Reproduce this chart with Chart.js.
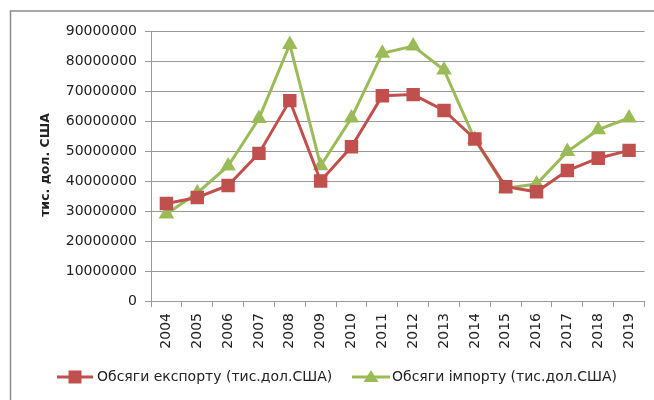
<!DOCTYPE html>
<html>
<head>
<meta charset="utf-8">
<script src="https://cdn.jsdelivr.net/npm/chart.js@4"></script>
<style>
html,body{margin:0;padding:0;background:#fff;}
#wrap{width:654px;height:400px;position:relative;}
</style>
</head>
<body>
<div id="wrap"><canvas id="c" width="654" height="400"></canvas></div>
<script>
const years = ['2004','2005','2006','2007','2008','2009','2010','2011','2012','2013','2014','2015','2016','2017','2018','2019'];
const exportValues = [32500000,34500000,38500000,49200000,66800000,40000000,51400000,68400000,68800000,63500000,54000000,38100000,36400000,43500000,47600000,50200000];
const importValues = [29000000,36000000,45000000,60800000,85500000,45100000,61000000,82600000,85000000,77000000,53800000,37600000,39000000,49800000,57100000,61000000];
const yTicks = [0,10000000,20000000,30000000,40000000,50000000,60000000,70000000,80000000,90000000];
const seriesNames = ['Обсяги експорту (тис.дол.США)','Обсяги імпорту (тис.дол.США)'];
const yTitle = 'тис. дол. США';

const RED = '#C0504D', GREEN = '#9BBB59';
const FONT = 'DejaVu Sans';

const decor = {
  id: 'decor',
  beforeDraw(chart) {
    const ctx = chart.ctx;
    ctx.save();
    ctx.fillStyle = '#fff';
    ctx.fillRect(0, 0, chart.width, chart.height);
    ctx.strokeStyle = '#8c8c8c';
    ctx.lineWidth = 1.5;
    ctx.strokeRect(10.5, 11, 700, 500);
    ctx.restore();
  },
  afterDraw(chart) {
    const ctx = chart.ctx;
    ctx.save();
    ctx.translate(46, 165);
    ctx.rotate(-Math.PI / 2);
    ctx.font = 'bold 12.5px ' + FONT;
    ctx.fillStyle = '#222';
    ctx.textAlign = 'center';
    ctx.textBaseline = 'middle';
    ctx.fillText(yTitle, 0, 0);
    ctx.restore();

    const ly = 377;
    const items = [
      {x0: 57, x1: 93, color: RED, style: 'rect', text: seriesNames[0], tx: 97},
      {x0: 352, x1: 390, color: GREEN, style: 'triangle', text: seriesNames[1], tx: 392}
    ];
    items.forEach(it => {
      ctx.save();
      ctx.strokeStyle = it.color;
      ctx.lineWidth = 3;
      ctx.beginPath();
      ctx.moveTo(it.x0, ly);
      ctx.lineTo(it.x1, ly);
      ctx.stroke();
      const cx = (it.x0 + it.x1) / 2;
      ctx.fillStyle = it.color;
      if (it.style === 'rect') {
        ctx.fillRect(cx - 6.5, ly - 6.5, 13, 13);
      } else {
        ctx.beginPath();
        ctx.moveTo(cx, ly - 7);
        ctx.lineTo(cx + 7.5, ly + 5);
        ctx.lineTo(cx - 7.5, ly + 5);
        ctx.closePath();
        ctx.fill();
      }
      ctx.font = '14px ' + FONT;
      ctx.fillStyle = '#222';
      ctx.textAlign = 'left';
      ctx.textBaseline = 'middle';
      ctx.fillText(it.text, it.tx, ly);
      ctx.restore();
    });
  }
};

new Chart(document.getElementById('c'), {
  type: 'line',
  data: {
    labels: years,
    datasets: [
      {label: seriesNames[0], data: exportValues, borderColor: RED, backgroundColor: RED,
       borderWidth: 3, pointStyle: 'rect', pointRadius: 9.5, pointHoverRadius: 9.5,
       pointBorderWidth: 0, tension: 0},
      {label: seriesNames[1], data: importValues, borderColor: GREEN, backgroundColor: GREEN,
       borderWidth: 3, pointStyle: 'triangle', pointRadius: 9, pointHoverRadius: 9,
       pointBorderWidth: 0, tension: 0}
    ]
  },
  options: {
    responsive: false,
    animation: false,
    devicePixelRatio: 1,
    layout: {padding: {left: 0, right: 8, top: 31, bottom: 0}},
    plugins: {legend: {display: false}, tooltip: {enabled: false}},
    scales: {
      x: {
        offset: true,
        grid: {display: true, offset: true, drawOnChartArea: false, drawTicks: true, tickLength: 6, color: '#999'},
        border: {display: true, color: '#999', width: 1},
        ticks: {minRotation: 90, maxRotation: 90, padding: 6, color: '#222', font: {family: FONT, size: 14}, autoSkip: false},
        afterFit(s) { s.height = 99; }
      },
      y: {
        min: 0, max: 90000000,
        afterBuildTicks(s) { s.ticks = yTicks.map(v => ({value: v})); },
        grid: {color: '#999', tickLength: 6, drawTicks: true},
        border: {display: true, color: '#999', width: 1},
        ticks: {padding: 8, color: '#222', font: {family: FONT, size: 14}, callback: v => String(v)},
        afterFit(s) { s.width = 151; }
      }
    }
  },
  plugins: [decor]
});
</script>
</body>
</html>
